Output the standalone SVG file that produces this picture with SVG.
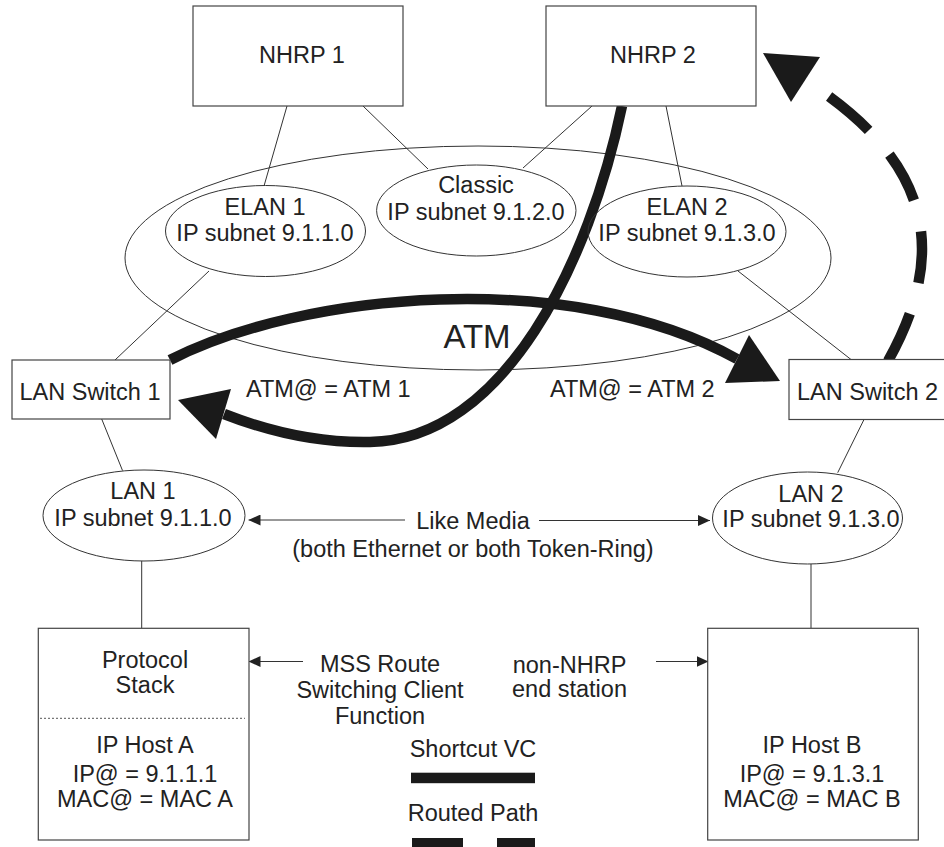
<svg xmlns="http://www.w3.org/2000/svg" width="944" height="847" viewBox="0 0 944 847">
<defs>
<style>
text{font-family:"Liberation Sans",Arial,sans-serif;font-size:23.5px;fill:#222;text-anchor:middle}
.box{fill:#fff;stroke:#444;stroke-width:1.2}
.ell{fill:none;stroke:#333;stroke-width:1}
.thin{fill:none;stroke:#333;stroke-width:1}
.thick{fill:none;stroke:#1a1a1a;stroke-width:10.5}
.head{fill:#1a1a1a}
</style>
<marker id="tri" markerUnits="userSpaceOnUse" markerWidth="12" markerHeight="11" refX="12" refY="5.5" orient="auto">
<path d="M0,0 L12,5.5 L0,11 Z" fill="#222"/>
</marker>
</defs>
<rect width="944" height="847" fill="#fff"/>

<g id="atm-cloud">
<ellipse class="ell" cx="478" cy="258" rx="353" ry="112"/>
<text x="477" y="348" style="font-size:33px">ATM</text>
</g>

<g id="connectors">
<line class="thin" x1="287" y1="106" x2="264" y2="186"/>
<line class="thin" x1="363" y1="106" x2="428" y2="169"/>
<line class="thin" x1="592" y1="106" x2="523" y2="168"/>
<line class="thin" x1="666" y1="106" x2="682" y2="186"/>
<line class="thin" x1="209" y1="271" x2="115" y2="360"/>
<line class="thin" x1="738" y1="271" x2="851" y2="359.5"/>
<line class="thin" x1="101.7" y1="419" x2="122.5" y2="470.5"/>
<line class="thin" x1="864" y1="419.5" x2="837.7" y2="472.7"/>
<line class="thin" x1="141.7" y1="561" x2="141.7" y2="628.3"/>
<line class="thin" x1="811" y1="564" x2="811" y2="628.3"/>
<line class="thin" x1="405" y1="520" x2="248.5" y2="520" marker-end="url(#tri)"/>
<line class="thin" x1="539" y1="520.5" x2="710" y2="520.5" marker-end="url(#tri)"/>
<line class="thin" x1="303" y1="661.5" x2="248.5" y2="661.5" marker-end="url(#tri)"/>
<line class="thin" x1="656" y1="661.5" x2="708.5" y2="661.5" marker-end="url(#tri)"/>
<path class="thick" d="M170,360 C300,293 570,266 737,359"/>
<polygon class="head" points="749,335 780,381 725,383"/>
<path class="thick" d="M622,106 C590,260 505,440 370,442 C320,443 270,432 224,414"/>
<polygon class="head" points="178,400 231,389 216,439"/>
<path class="thick" d="M888,361 C950,250 930,160 805,80" stroke-dasharray="52 32"/>
<polygon class="head" points="763,53 820,57 791,102"/>
</g>

<g id="nhrp1">
<rect class="box" x="193" y="6" width="210" height="100"/>
<text x="302" y="63">NHRP 1</text>
</g>
<g id="nhrp2">
<rect class="box" x="546" y="6" width="210" height="100"/>
<text x="653" y="63">NHRP 2</text>
</g>

<g id="elan1">
<ellipse class="ell" cx="265.5" cy="231" rx="100" ry="45.5"/>
<text x="265" y="214.5">ELAN 1</text>
<text x="265" y="241">IP subnet 9.1.1.0</text>
</g>
<g id="classic">
<ellipse class="ell" cx="476.3" cy="210.5" rx="99.7" ry="45.5"/>
<text x="476" y="193">Classic</text>
<text x="476" y="220">IP subnet 9.1.2.0</text>
</g>
<g id="elan2">
<ellipse class="ell" cx="687" cy="231.5" rx="99" ry="45.5"/>
<text x="687" y="214.5">ELAN 2</text>
<text x="687" y="241">IP subnet 9.1.3.0</text>
</g>

<g id="lanswitch1">
<rect class="box" x="12" y="360" width="158" height="59"/>
<text x="90" y="400">LAN Switch 1</text>
</g>
<g id="lanswitch2">
<rect class="box" x="789" y="359.5" width="160" height="60"/>
<text x="797" y="400" style="text-anchor:start">LAN Switch 2</text>
</g>

<g id="atm-labels">
<text x="246" y="397" style="text-anchor:start">ATM@ = ATM 1</text>
<text x="550" y="397" style="text-anchor:start">ATM@ = ATM 2</text>
</g>

<g id="lan1">
<ellipse class="ell" cx="144" cy="515.5" rx="101" ry="45.5"/>
<text x="143" y="499">LAN 1</text>
<text x="143" y="526">IP subnet 9.1.1.0</text>
</g>
<g id="lan2">
<ellipse class="ell" cx="807.5" cy="518" rx="95" ry="46"/>
<text x="811" y="501.5">LAN 2</text>
<text x="811" y="527">IP subnet 9.1.3.0</text>
</g>

<g id="like-media">
<text x="473" y="529">Like Media</text>
<text x="473" y="556.5">(both Ethernet or both Token-Ring)</text>
</g>

<g id="host-a">
<rect class="box" x="38.3" y="628.3" width="210.7" height="211.7"/>
<line x1="40" y1="718.3" x2="245" y2="718.3" stroke="#555" stroke-width="1" stroke-dasharray="2 2"/>
<text x="145" y="668">Protocol</text>
<text x="145" y="693">Stack</text>
<text x="145" y="753">IP Host A</text>
<text x="145" y="781.5">IP@ = 9.1.1.1</text>
<text x="145" y="807">MAC@ = MAC A</text>
</g>

<g id="mss-label">
<text x="380" y="671.5">MSS Route</text>
<text x="380" y="698">Switching Client</text>
<text x="380" y="724">Function</text>
</g>
<g id="non-nhrp-label">
<text x="569.5" y="673">non-NHRP</text>
<text x="569.5" y="697">end station</text>
</g>

<g id="host-b">
<rect class="box" x="707.7" y="628.3" width="210.6" height="211.7"/>
<text x="812" y="753">IP Host B</text>
<text x="812" y="781.5">IP@ = 9.1.3.1</text>
<text x="812" y="807">MAC@ = MAC B</text>
</g>

<g id="legend">
<text x="473" y="756.5">Shortcut VC</text>
<rect x="411" y="772.7" width="124" height="10.5" fill="#1a1a1a"/>
<text x="473" y="821">Routed Path</text>
<rect x="412" y="838" width="51" height="12" fill="#1a1a1a"/>
<rect x="497" y="838" width="38" height="12" fill="#1a1a1a"/>
</g>
</svg>
